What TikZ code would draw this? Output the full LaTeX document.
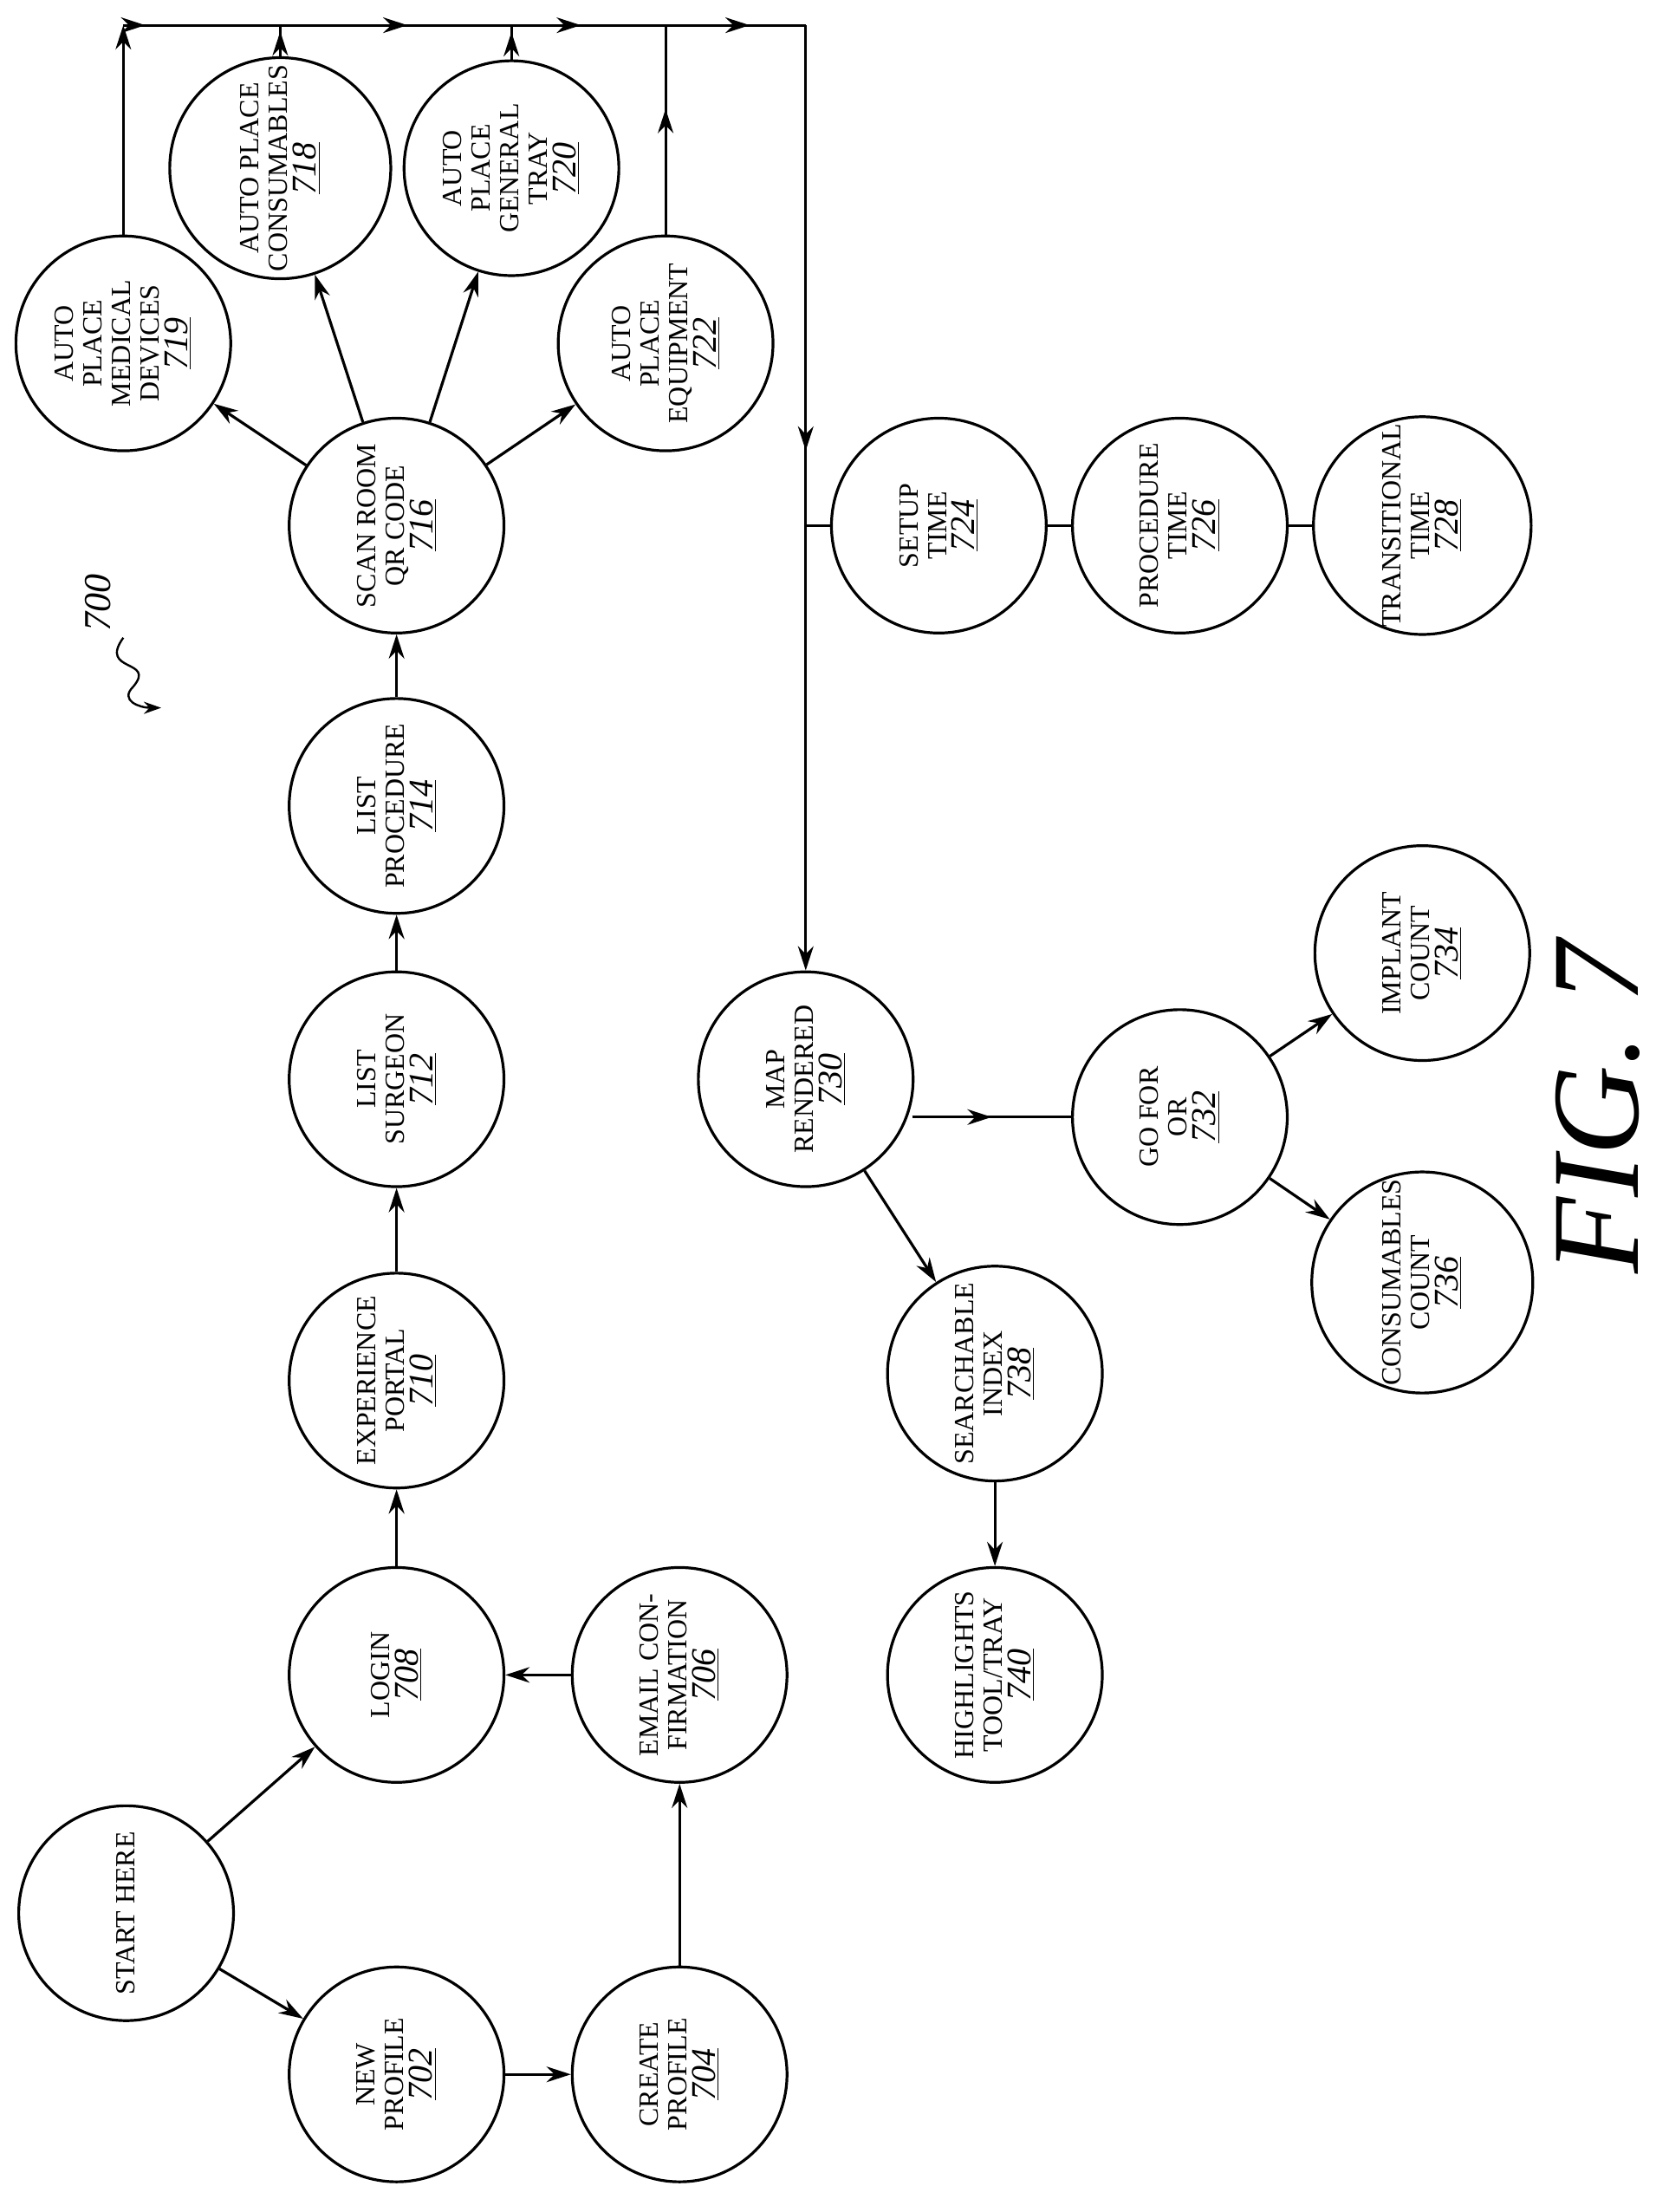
\documentclass[tikz,border=0pt]{standalone}
\usepackage{fontspec}
\setmainfont{Liberation Serif}
\usetikzlibrary{arrows.meta,decorations.markings,calc}
\begin{document}
\begin{tikzpicture}[x=0.809pt,y=-0.809pt,
 c/.style={circle,draw,line width=1.6pt,minimum size=124pt,inner sep=0pt,rotate=90,align=center,font=\fontsize{16}{16.5}\selectfont},
 ln/.style={line width=1.6pt},
 ar/.style={ln,-{Stealth[length=14pt,width=9pt]}},
 mid/.style={ln,decoration={markings,mark=at position #1 with {\arrow{Stealth[length=14pt,width=9pt]}}},postaction={decorate}}]
\useasboundingbox (0,0) rectangle (1190.5,1578.2);
\newcommand{\nm}[1]{\underline{\textit{\fontsize{20}{20}\selectfont #1}}}
\node[c] (s) at (90,1365) {START HERE};
\node[c] (n702) at (283,1480) {NEW\\PROFILE\\\nm{702}};
\node[c] (n704) at (485,1480) {CREATE\\PROFILE\\\nm{704}};
\node[c] (n706) at (485,1195) {EMAIL CON-\\FIRMATION\\\nm{706}};
\node[c] (n708) at (283,1195) {LOGIN\\\nm{708}};
\node[c] (n710) at (283,985) {EXPERIENCE\\PORTAL\\\nm{710}};
\node[c] (n712) at (283,770) {LIST\\SURGEON\\\nm{712}};
\node[c] (n714) at (283,575) {LIST\\PROCEDURE\\\nm{714}};
\node[c] (n716) at (283,375) {SCAN ROOM\\QR CODE\\\nm{716}};
\node[c] (n719) at (88,245) {AUTO\\PLACE\\MEDICAL\\DEVICES\\\nm{719}};
\node[c] (n718) at (200,120) {AUTO PLACE\\CONSUMABLES\\\nm{718}};
\node[c] (n720) at (365,120) {AUTO\\PLACE\\GENERAL\\TRAY\\\nm{720}};
\node[c] (n722) at (475,245) {AUTO\\PLACE\\EQUIPMENT\\\nm{722}};
\node[c] (n724) at (670,375) {SETUP\\TIME\\\nm{724}};
\node[c] (n726) at (842,375) {PROCEDURE\\TIME\\\nm{726}};
\node[c] (n728) at (1015,375) {TRANSITIONAL\\TIME\\\nm{728}};
\node[c] (n730) at (575,770) {MAP\\RENDERED\\\nm{730}};
\node[c] (n732) at (842,797) {GO FOR\\OR\\\nm{732}};
\node[c] (n734) at (1015,680) {IMPLANT\\COUNT\\\nm{734}};
\node[c] (n736) at (1015,915) {CONSUMABLES\\COUNT\\\nm{736}};
\node[c] (n738) at (710,980) {SEARCHABLE\\INDEX\\\nm{738}};
\node[c] (n740) at (710,1195) {HIGHLIGHTS\\TOOL/TRAY\\\nm{740}};
\coordinate (t1) at (88,18); \coordinate (t2) at (200,18); \coordinate (t3) at (365,18);
\coordinate (t4) at (475,18); \coordinate (t5) at (575,18); \coordinate (b1) at (575,375);
\draw[ar] (s) -- (n708); \draw[ar] (s) -- (n702);
\draw[ar] (n702) -- (n704); \draw[ar] (n704) -- (n706); \draw[ar] (n706) -- (n708);
\draw[ar] (n708) -- (n710); \draw[ar] (n710) -- (n712); \draw[ar] (n712) -- (n714); \draw[ar] (n714) -- (n716);
\draw[ar] (n716) -- (n719); \draw[ar] (n716) -- (n718); \draw[ar] (n716) -- (n720); \draw[ar] (n716) -- (n722);
\draw[ar] (n719) -- (t1);
\draw[mid=0.8] (n718) -- (t2); \draw[mid=0.8] (n720) -- (t3); \draw[mid=0.6] (n722) -- (t4);
\draw[mid=0.14] (t1) -- (t2); \draw[mid=0.55] (t2) -- (t3); \draw[mid=0.45] (t3) -- (t4); \draw[mid=0.6] (t4) -- (t5);
\draw[mid=0.85] (t5) -- (b1); \draw[ar] (b1) -- (n730);
\draw[ln] (b1) -- (n724); \draw[ln] (n724) -- (n726); \draw[ln] (n726) -- (n728);
\draw[mid=0.5] ($(n730.center)+(76,27)$) -- (n732);
\draw[ar] (n730) -- (n738); \draw[ar] (n738) -- (n740);
\draw[ar] (n732) -- (n734); \draw[ar] (n732) -- (n736);
\node[rotate=90,font=\fontsize{22}{22}\selectfont\itshape] (lbl) at (70,430) {700};
\coordinate (sq) at (115,505);
\draw[line width=1.2pt,-{Stealth[length=10pt,width=7pt]}] (88,455) .. controls (70,480) and (112,470) .. (95,490) .. controls (85,500) and (100,505) .. (sq);
\node[rotate=90,font=\fontsize{72}{72}\selectfont\itshape] (fig) at (1140,790) {FIG. 7};
\end{tikzpicture}
\end{document}
